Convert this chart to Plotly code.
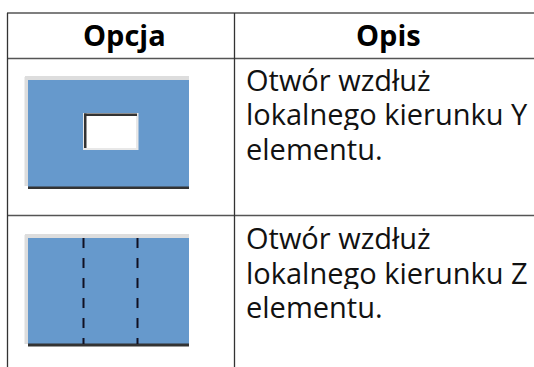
import plotly.graph_objects as go

headers = ["Opcja", "Opis"]
row_lines = [
    ["Otwór wzdłuż", "lokalnego kierunku Y", "elementu."],
    ["Otwór wzdłuż", "lokalnego kierunku Z", "elementu."],
]

W, H = 534, 367
BLUE = "#6699CC"
RULE = "#555555"
FONT = "Open Sans"


def rect(x0, y0, x1, y1, color):
    return dict(type="rect", xref="x", yref="y", x0=x0, y0=y0, x1=x1, y1=y1,
                fillcolor=color, line=dict(width=0), layer="above")


def line(x0, y0, x1, y1, color=RULE, width=1.5, dash="solid"):
    return dict(type="line", xref="x", yref="y", x0=x0, y0=y0, x1=x1, y1=y1,
                line=dict(color=color, width=width, dash=dash), layer="above")


shapes = [
    # table rules
    line(7, 13, W, 13),
    line(7, 58.5, W, 58.5),
    line(7, 215.5, W, 215.5),
    line(7.5, 13, 7.5, H, "#333333", 1.3),
    line(234.5, 13, 234.5, H, "#333333", 1.3),
]

# first picture: plate with a rectangular hole
shapes += [
    rect(25, 76, 189, 80, "#DDDDDD"),
    rect(24.5, 77, 28, 186, "#DDDDDD"),
    rect(28, 80, 189, 187, BLUE),
    rect(28, 186.5, 189, 189, "#333333"),
    rect(83, 113, 138.5, 150, "#E8E8E8"),
    rect(84, 114, 136, 148, "white"),
    rect(84, 113.5, 137, 116, "#333333"),
    rect(84, 113.5, 86.5, 148, "#333333"),
]

# second picture: plate with two dashed hole lines
shapes += [
    rect(25, 234, 189, 238, "#DDDDDD"),
    rect(24.5, 235, 28, 344, "#DDDDDD"),
    rect(28, 238, 189, 344, BLUE),
    rect(28, 343.5, 189, 346.5, "#333333"),
    line(83.5, 238, 83.5, 344, "#111122", 2, "10px,10px"),
    line(137.5, 238, 137.5, 344, "#111122", 2, "10px,10px"),
]

annotations = []
for txt, cx in zip(headers, [124, 388]):
    annotations.append(dict(x=cx, y=34, text=f"<b>{txt}</b>", showarrow=False,
                            xanchor="center", yanchor="middle",
                            font=dict(family=FONT, size=29, color="black")))
for lines, y0 in zip(row_lines, [78.5, 237]):
    for i, txt in enumerate(lines):
        annotations.append(dict(x=244, y=y0 + i * 34.7, text=txt, showarrow=False,
                                xanchor="left", yanchor="middle", height=34,
                                font=dict(family=FONT, size=29, color="#111111")))

fig = go.Figure()
fig.update_layout(
    width=W, height=H,
    margin=dict(l=0, r=0, t=0, b=0),
    paper_bgcolor="white", plot_bgcolor="white",
    xaxis=dict(range=[0, W], visible=False, fixedrange=True),
    yaxis=dict(range=[H, 0], visible=False, fixedrange=True),
    shapes=shapes, annotations=annotations, showlegend=False,
)
fig.write_html("out.html", config={"displayModeBar": False},
               post_script="document.body.style.margin='0';document.body.style.overflow='hidden';")
